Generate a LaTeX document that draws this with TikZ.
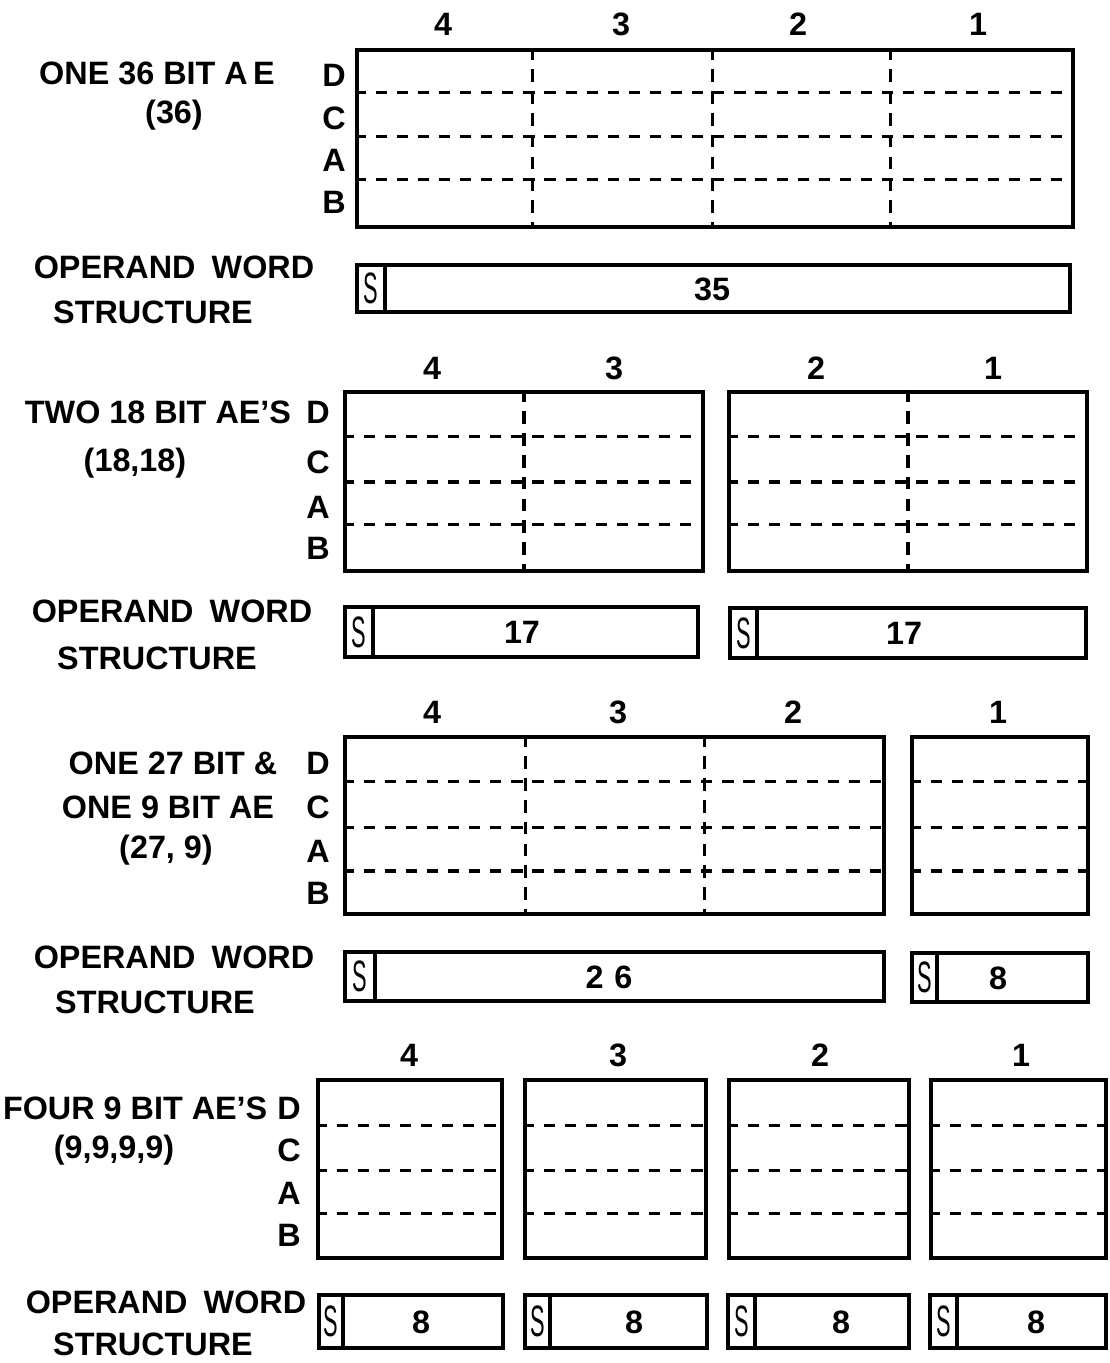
\documentclass[tikz,border=0pt]{standalone}
\usepackage{fontspec}
\usepackage{graphicx}
\setmainfont{Liberation Sans}
\usetikzlibrary{calc,fit}
\newcommand\Sglyph{\scalebox{0.62}[1.25]{\fontsize{10}{11}\selectfont S}}
\tikzset{
  lbl/.style={font=\fontsize{9.2}{11}\selectfont\bfseries, inner sep=0},
  aebox/.style={draw, line width=1.4pt, inner sep=0},
  wordbox/.style={draw, line width=1.3pt, inner sep=0},
  sbox/.style={draw, line width=1.1pt, inner sep=0},
  sglyph/.style={inner sep=0},
  hdash/.style={line width=0.9pt, dash pattern=on 3.2pt off 2.8pt},
  vdash/.style={line width=0.9pt, dash pattern=on 3.6pt off 2.6pt},
}
\begin{document}
\begin{tikzpicture}[x=0.01cm,y=-0.01cm]
\useasboundingbox (0,0) rectangle (1110,1363);

% ---------------- Section 1 ----------------
\node[lbl] (c1n4) at (443,24) {4};
\node[lbl] (c1n3) at (621,24) {3};
\node[lbl] (c1n2) at (798,24) {2};
\node[lbl] (c1n1) at (978,24) {1};
\node[lbl] (t1a) at (157,73) {ONE 36 BIT A\,E};
\node[lbl] (t1b) at (174,115) {(36)};
\node[lbl] (r1d) at (334,75) {D};
\node[lbl] (r1c) at (334,118) {C};
\node[lbl] (r1a) at (334,160) {A};
\node[lbl] (r1b) at (334,202) {B};
\node[aebox, fit={(357,50) (1073,227)}] (ae1) {};
\foreach \f in {0.245,0.49,0.725}
  \draw[hdash] ($(ae1.north west)!\f!(ae1.south west)$) -- ($(ae1.north east)!\f!(ae1.south east)$);
\foreach \f in {0.247,0.496,0.744}
  \draw[vdash] ($(ae1.north west)!\f!(ae1.north east)$) -- ($(ae1.south west)!\f!(ae1.south east)$);
\node[lbl] (o1a) at (174,267) {OPERAND\hspace{0.5em}WORD};
\node[lbl] (o1b) at (153,312) {STRUCTURE};
\node[wordbox, fit={(357,265) (1070,312)}] (w1) {};
\node[sbox, fit={(357,265) (385,312)}] (s1) {};
\node[sglyph] (s1t) at (s1.center) {\Sglyph};
\node[lbl] (n1) at (712,289) {35};

% ---------------- Section 2 ----------------
\node[lbl] (c2n4) at (432,368) {4};
\node[lbl] (c2n3) at (614,368) {3};
\node[lbl] (c2n2) at (816,368) {2};
\node[lbl] (c2n1) at (993,368) {1};
\node[lbl] (t2a) at (158,412) {TWO 18 BIT AE’S};
\node[lbl] (t2b) at (135,463) {(18,18)};
\node[lbl] (r2d) at (318,412) {D};
\node[lbl] (r2c) at (318,462) {C};
\node[lbl] (r2a) at (318,507) {A};
\node[lbl] (r2b) at (318,548) {B};
\node[aebox, fit={(345,392) (703,571)}] (ae2a) {};
\node[aebox, fit={(729,392) (1087,571)}] (ae2b) {};
\foreach \b in {ae2a,ae2b}{
  \foreach \f in {0.257,0.503,0.732}
    \draw[hdash] ($(\b.north west)!\f!(\b.south west)$) -- ($(\b.north east)!\f!(\b.south east)$);
  \draw[vdash] ($(\b.north west)!0.5!(\b.north east)$) -- ($(\b.south west)!0.5!(\b.south east)$);
}
\node[lbl] (o2a) at (172,611) {OPERAND\hspace{0.5em}WORD};
\node[lbl] (o2b) at (157,658) {STRUCTURE};
\node[wordbox, fit={(345,607) (698,657)}] (w2a) {};
\node[sbox, fit={(345,607) (373,657)}] (s2a) {};
\node[sglyph] (s2at) at (s2a.center) {\Sglyph};
\node[lbl] (n2a) at (522,632) {17};
\node[wordbox, fit={(730,608) (1086,658)}] (w2b) {};
\node[sbox, fit={(730,608) (757,658)}] (s2b) {};
\node[sglyph] (s2bt) at (s2b.center) {\Sglyph};
\node[lbl] (n2b) at (904,633) {17};

% ---------------- Section 3 ----------------
\node[lbl] (c3n4) at (432,712) {4};
\node[lbl] (c3n3) at (618,712) {3};
\node[lbl] (c3n2) at (793,712) {2};
\node[lbl] (c3n1) at (998,712) {1};
\node[lbl] (t3a) at (173,763) {ONE 27 BIT \&};
\node[lbl] (t3b) at (168,807) {ONE 9 BIT AE};
\node[lbl] (t3c) at (166,850) {(27, 9)};
\node[lbl] (r3d) at (318,763) {D};
\node[lbl] (r3c) at (318,807) {C};
\node[lbl] (r3a) at (318,851) {A};
\node[lbl] (r3b) at (318,893) {B};
\node[aebox, fit={(345,737) (884,914)}] (ae3a) {};
\node[aebox, fit={(912,737) (1088,914)}] (ae3b) {};
\foreach \b in {ae3a,ae3b}{
  \foreach \f in {0.26,0.51,0.75}
    \draw[hdash] ($(\b.north west)!\f!(\b.south west)$) -- ($(\b.north east)!\f!(\b.south east)$);
}
\foreach \f in {0.337,0.665}
  \draw[vdash] ($(ae3a.north west)!\f!(ae3a.north east)$) -- ($(ae3a.south west)!\f!(ae3a.south east)$);
\node[lbl] (o3a) at (174,957) {OPERAND\hspace{0.5em}WORD};
\node[lbl] (o3b) at (155,1002) {STRUCTURE};
\node[wordbox, fit={(345,952) (884,1001)}] (w3a) {};
\node[sbox, fit={(345,952) (375,1001)}] (s3a) {};
\node[sglyph] (s3at) at (s3a.center) {\Sglyph};
\node[lbl] (n3a) at (609,977) {2\,\,6};
\node[wordbox, fit={(912,953) (1088,1002)}] (w3b) {};
\node[sbox, fit={(912,953) (937,1002)}] (s3b) {};
\node[sglyph] (s3bt) at (s3b.center) {\Sglyph};
\node[lbl] (n3b) at (998,978) {8};

% ---------------- Section 4 ----------------
\node[lbl] (c4n4) at (409,1055) {4};
\node[lbl] (c4n3) at (618,1055) {3};
\node[lbl] (c4n2) at (820,1055) {2};
\node[lbl] (c4n1) at (1021,1055) {1};
\node[lbl, anchor=east] (t4a) at (268,1108) {FOUR 9 BIT AE’S};
\node[lbl] (t4b) at (114,1150) {(9,9,9,9)};
\node[lbl] (r4d) at (289,1108) {D};
\node[lbl] (r4c) at (289,1150) {C};
\node[lbl] (r4a) at (289,1193) {A};
\node[lbl] (r4b) at (289,1235) {B};
\node[aebox, fit={(318,1080) (502,1258)}] (ae4a) {};
\node[aebox, fit={(525,1080) (706,1258)}] (ae4b) {};
\node[aebox, fit={(729,1080) (909,1258)}] (ae4c) {};
\node[aebox, fit={(931,1080) (1106,1258)}] (ae4d) {};
\foreach \b in {ae4a,ae4b,ae4c,ae4d}{
  \foreach \f in {0.264,0.506,0.742}
    \draw[hdash] ($(\b.north west)!\f!(\b.south west)$) -- ($(\b.north east)!\f!(\b.south east)$);
}
\node[lbl] (o4a) at (166,1302) {OPERAND\hspace{0.5em}WORD};
\node[lbl] (o4b) at (153,1344) {STRUCTURE};
\node[wordbox, fit={(319,1295) (503,1348)}] (w4a) {};
\node[sbox, fit={(319,1295) (343,1348)}] (s4a) {};
\node[sglyph] (s4at) at (s4a.center) {\Sglyph};
\node[lbl] (n4a) at (421,1322) {8};
\node[wordbox, fit={(525,1295) (707,1348)}] (w4b) {};
\node[sbox, fit={(525,1295) (550,1348)}] (s4b) {};
\node[sglyph] (s4bt) at (s4b.center) {\Sglyph};
\node[lbl] (n4b) at (634,1322) {8};
\node[wordbox, fit={(728,1295) (909,1348)}] (w4c) {};
\node[sbox, fit={(728,1295) (755,1348)}] (s4c) {};
\node[sglyph] (s4ct) at (s4c.center) {\Sglyph};
\node[lbl] (n4c) at (841,1322) {8};
\node[wordbox, fit={(930,1295) (1106,1348)}] (w4d) {};
\node[sbox, fit={(930,1295) (957,1348)}] (s4d) {};
\node[sglyph] (s4dt) at (s4d.center) {\Sglyph};
\node[lbl] (n4d) at (1036,1322) {8};
\end{tikzpicture}
\end{document}
